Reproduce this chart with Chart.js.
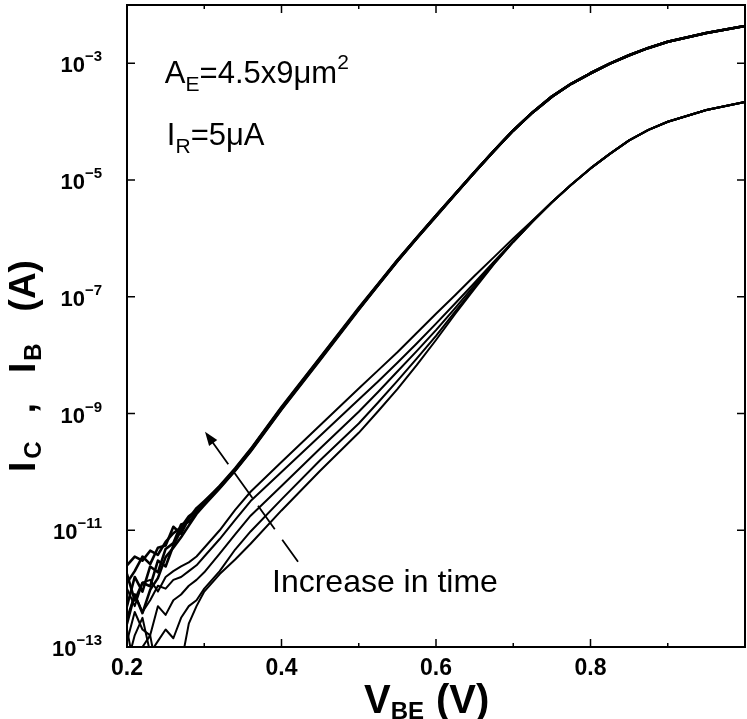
<!DOCTYPE html>
<html>
<head>
<meta charset="utf-8">
<script src="https://cdn.jsdelivr.net/npm/chart.js@4.4.1/dist/chart.umd.min.js"></script>
<style>
  html, body { margin: 0; padding: 0; background: #fff; }
  #wrap { width: 747px; height: 719px; }
</style>
</head>
<body>
<div id="wrap"><canvas id="c" width="747" height="719"></canvas></div>
<script>
// Base-emitter voltage sweep (V)
const VBE = [0.20, 0.21, 0.22, 0.23, 0.24, 0.25, 0.26, 0.27, 0.28, 0.29, 0.30,
             0.32, 0.34, 0.36, 0.40, 0.45, 0.50, 0.525, 0.55, 0.575, 0.60, 0.625, 0.65, 0.675, 0.70,
             0.725, 0.75, 0.775, 0.80, 0.825, 0.85, 0.875, 0.90, 0.95, 1.00];

// Collector current, log10(A), one curve per stress time
const IC_LOG_1 = [-11.60, -11.45, -11.52, -11.35, -11.42, -11.20, -11.05, -10.95, -10.76, -10.66, -10.52,
                  -10.24, -9.94, -9.61, -8.89, -8.04, -7.19, -6.78, -6.37, -5.99, -5.61, -5.235, -4.865, -4.50, -4.15,
                  -3.84, -3.57, -3.35, -3.17, -3.005, -2.86, -2.735, -2.63, -2.48, -2.36];
const IC_LOG_2 = [-11.90, -11.70, -11.45, -11.58, -11.30, -11.26, -10.94, -11.06, -10.80, -10.62, -10.50,
                  -10.25, -9.95, -9.62, -8.90, -8.05, -7.20, -6.79, -6.38, -5.99, -5.61, -5.235, -4.865, -4.50, -4.15,
                  -3.84, -3.57, -3.35, -3.17, -3.005, -2.86, -2.735, -2.63, -2.48, -2.36];
const IC_LOG_3 = [-12.30, -11.80, -12.05, -11.62, -11.72, -11.32, -11.22, -10.90, -10.86, -10.70, -10.55,
                  -10.27, -9.97, -9.64, -8.92, -8.07, -7.21, -6.80, -6.39, -6.00, -5.62, -5.24, -4.865, -4.50, -4.15,
                  -3.84, -3.57, -3.35, -3.17, -3.005, -2.86, -2.735, -2.63, -2.48, -2.36];
const IC_LOG_4 = [-11.75, -12.20, -11.90, -11.96, -11.52, -11.62, -11.26, -11.00, -10.78, -10.67, -10.54,
                  -10.26, -9.96, -9.63, -8.91, -8.06, -7.21, -6.79, -6.38, -5.99, -5.61, -5.235, -4.865, -4.50, -4.15,
                  -3.84, -3.57, -3.35, -3.17, -3.005, -2.86, -2.735, -2.63, -2.48, -2.36];
const IC_LOG_5 = [-12.60, -12.10, -12.42, -12.02, -11.82, -11.46, -11.30, -11.12, -10.92, -10.72, -10.57,
                  -10.28, -9.98, -9.65, -8.93, -8.08, -7.22, -6.80, -6.39, -6.00, -5.62, -5.24, -4.865, -4.50, -4.15,
                  -3.84, -3.57, -3.35, -3.17, -3.005, -2.86, -2.735, -2.63, -2.48, -2.36];

// Base current, log10(A), one curve per stress time (A = longest stress)
const IB_LOG_A = [-12.00, -12.30, -11.90, -11.85, -12.05, -11.80, -11.70, -11.62, -11.55, -11.45, -11.30,
                  -11.00, -10.65, -10.34, -9.83, -9.20, -8.57, -8.26, -7.95, -7.62, -7.29, -6.97, -6.64, -6.32, -6.00,
                  -5.69, -5.38, -5.08, -4.80, -4.55, -4.32, -4.14, -4.00, -3.80, -3.66];
const IB_LOG_B = [-12.50, -12.10, -12.40, -12.20, -11.95, -12.00, -11.85, -11.80, -11.70, -11.60, -11.45,
                  -11.15, -10.82, -10.50, -10.00, -9.38, -8.76, -8.45, -8.13, -7.80, -7.46, -7.11, -6.76, -6.40, -6.05,
                  -5.70, -5.38, -5.08, -4.80, -4.55, -4.32, -4.14, -4.00, -3.80, -3.66];
const IB_LOG_C = [-12.90, -12.40, -12.70, -12.80, -12.30, -12.45, -12.20, -12.10, -11.95, -11.85, -11.72,
                  -11.40, -11.07, -10.75, -10.24, -9.60, -8.97, -8.63, -8.28, -7.93, -7.57, -7.19, -6.80, -6.42, -6.05,
                  -5.71, -5.38, -5.08, -4.80, -4.55, -4.32, -4.14, -4.00, -3.80, -3.66];
const IB_LOG_D = [-13.30, -12.80, -12.50, -13.10, -12.90, -12.70, -12.85, -12.50, -12.30, -12.20, -12.00,
                  -11.70, -11.33, -11.02, -10.47, -9.80, -9.17, -8.81, -8.44, -8.06, -7.67, -7.25, -6.84, -6.43, -6.06,
                  -5.71, -5.38, -5.08, -4.80, -4.55, -4.32, -4.14, -4.00, -3.80, -3.66];
const IB_LOG_E = [-12.70, -13.40, -13.00, -12.80, -13.50, -13.20, -13.60, -13.30, -12.60, -12.30, -12.05,
                  -11.75, -11.50, -11.23, -10.66, -9.98, -9.33, -8.96, -8.58, -8.17, -7.74, -7.29, -6.86, -6.44, -6.06,
                  -5.71, -5.38, -5.08, -4.80, -4.55, -4.32, -4.14, -4.00, -3.80, -3.66];

// Axis ticks
const X_MAJOR = [0.2, 0.4, 0.6, 0.8];
const X_MINOR = [0.3, 0.5, 0.7, 0.9];
const Y_EXPONENTS = [-3, -5, -7, -9, -11, -13];

const FONT = '"Liberation Sans", Arial, Helvetica, sans-serif';

function toPoints(logs) {
  return VBE.map((v, i) => ({ x: v, y: Math.pow(10, logs[i]) }));
}

const icCurves = [IC_LOG_1, IC_LOG_2, IC_LOG_3, IC_LOG_4, IC_LOG_5];
const ibCurves = [IB_LOG_A, IB_LOG_B, IB_LOG_C, IB_LOG_D, IB_LOG_E];

const datasets = [];
ibCurves.forEach((c, i) => datasets.push({
  label: 'IB ' + (i + 1), data: toPoints(c),
  borderColor: '#000', borderWidth: 2.0, pointRadius: 0, tension: 0
}));
icCurves.forEach((c, i) => datasets.push({
  label: 'IC ' + (i + 1), data: toPoints(c),
  borderColor: '#000', borderWidth: 2.6, pointRadius: 0, tension: 0
}));

// Draws a run of text pieces (normal / sub / superscript) starting at x
function drawRuns(ctx, runs, x, y) {
  let cx = x;
  runs.forEach(r => {
    ctx.font = r.font;
    ctx.fillText(r.t, cx, y + (r.dy || 0));
    cx += ctx.measureText(r.t).width + (r.gap || 0);
  });
  return cx - x;
}
function runsWidth(ctx, runs) {
  let w = 0;
  runs.forEach(r => { ctx.font = r.font; w += ctx.measureText(r.t).width + (r.gap || 0); });
  return w;
}

const frameAndLabels = {
  id: 'frameAndLabels',
  afterDraw(chart) {
    const ctx = chart.ctx;
    const a = chart.chartArea;
    const xs = chart.scales.x, ys = chart.scales.y;
    ctx.save();
    ctx.strokeStyle = '#000';
    ctx.fillStyle = '#000';

    // frame
    ctx.lineWidth = 2;
    ctx.strokeRect(a.left, a.top, a.right - a.left, a.bottom - a.top);

    // inward ticks on all four sides
    ctx.lineWidth = 1.5;
    ctx.beginPath();
    X_MAJOR.forEach(v => {
      const px = xs.getPixelForValue(v);
      ctx.moveTo(px, a.bottom); ctx.lineTo(px, a.bottom - 8);
      ctx.moveTo(px, a.top); ctx.lineTo(px, a.top + 8);
    });
    X_MINOR.forEach(v => {
      const px = xs.getPixelForValue(v);
      ctx.moveTo(px, a.bottom); ctx.lineTo(px, a.bottom - 4);
      ctx.moveTo(px, a.top); ctx.lineTo(px, a.top + 4);
    });
    Y_EXPONENTS.forEach(e => {
      const py = ys.getPixelForValue(Math.pow(10, e));
      ctx.moveTo(a.left, py); ctx.lineTo(a.left + 8, py);
      ctx.moveTo(a.right, py); ctx.lineTo(a.right - 8, py);
    });
    ctx.stroke();

    // x tick labels
    ctx.font = 'bold 23px ' + FONT;
    ctx.textAlign = 'center';
    ctx.textBaseline = 'alphabetic';
    X_MAJOR.forEach(v => {
      ctx.fillText(v.toFixed(1), xs.getPixelForValue(v), a.bottom + 28);
    });

    // y tick labels: 10 with a raised exponent
    ctx.textAlign = 'left';
    Y_EXPONENTS.forEach(e => {
      const py = ys.getPixelForValue(Math.pow(10, e));
      const runs = [
        { t: '10', font: 'bold 22px ' + FONT },
        { t: '\u2212' + Math.abs(e), font: 'bold 15px ' + FONT, dy: -11 }
      ];
      const w = runsWidth(ctx, runs);
      drawRuns(ctx, runs, a.left - 25 - w, py + 9);
    });

    // x axis title: V_BE (V)
    const xt = [
      { t: 'V', font: 'bold 40px ' + FONT },
      { t: 'BE', font: 'bold 24px ' + FONT, dy: 6, gap: 12 },
      { t: '(V)', font: 'bold 40px ' + FONT }
    ];
    drawRuns(ctx, xt, 364, 713);

    // y axis title: I_C , I_B (A), rotated
    const yt = [
      { t: 'I', font: 'bold 37px ' + FONT, gap: 3 },
      { t: 'C', font: 'bold 24px ' + FONT, dy: 6, gap: 28 },
      { t: ',', font: 'bold 37px ' + FONT, gap: 30 },
      { t: 'I', font: 'bold 37px ' + FONT, gap: 2 },
      { t: 'B', font: 'bold 24px ' + FONT, dy: 6, gap: 32 },
      { t: '(A)', font: 'bold 37px ' + FONT }
    ];
    const ytw = runsWidth(ctx, yt);
    ctx.save();
    ctx.translate(35, 366);
    ctx.rotate(-Math.PI / 2);
    drawRuns(ctx, yt, -ytw / 2, 0);
    ctx.restore();

    // device annotations
    const noteX = xs.getPixelForValue(0.249);
    drawRuns(ctx, [
      { t: 'A', font: '31px ' + FONT },
      { t: 'E', font: '21px ' + FONT, dy: 8 },
      { t: '=4.5x9\u03bcm', font: '31px ' + FONT },
      { t: '2', font: '21px ' + FONT, dy: -14 }
    ], noteX, ys.getPixelForValue(Math.pow(10, -3.34)));
    drawRuns(ctx, [
      { t: 'I', font: '31px ' + FONT },
      { t: 'R', font: '21px ' + FONT, dy: 8 },
      { t: '=5\u03bcA', font: '31px ' + FONT }
    ], noteX + 2, ys.getPixelForValue(Math.pow(10, -4.40)));

    // "Increase in time" label with arrow crossing the base-current curves
    ctx.font = '32px ' + FONT;
    ctx.fillText('Increase in time', xs.getPixelForValue(0.3877), ys.getPixelForValue(Math.pow(10, -12.05)));

    const p0 = { x: xs.getPixelForValue(0.4214), y: ys.getPixelForValue(Math.pow(10, -11.54)) };
    const p1 = { x: xs.getPixelForValue(0.301), y: ys.getPixelForValue(Math.pow(10, -9.31)) };
    const at = t => ({ x: p0.x + (p1.x - p0.x) * t, y: p0.y + (p1.y - p0.y) * t });
    ctx.lineWidth = 1.8;
    ctx.beginPath();
    [[0, 0.17], [0.25, 0.43], [0.49, 0.70], [0.75, 0.94]].forEach(([s, e]) => {
      const q0 = at(s), q1 = at(e);
      ctx.moveTo(q0.x, q0.y); ctx.lineTo(q1.x, q1.y);
    });
    ctx.stroke();
    const ang = Math.atan2(p1.y - p0.y, p1.x - p0.x);
    const L = 14, W = 5;
    ctx.beginPath();
    ctx.moveTo(p1.x, p1.y);
    ctx.lineTo(p1.x - L * Math.cos(ang) + W * Math.sin(ang), p1.y - L * Math.sin(ang) - W * Math.cos(ang));
    ctx.lineTo(p1.x - L * Math.cos(ang) - W * Math.sin(ang), p1.y - L * Math.sin(ang) + W * Math.cos(ang));
    ctx.closePath();
    ctx.fill();

    ctx.restore();
  }
};

new Chart(document.getElementById('c'), {
  type: 'line',
  data: { datasets },
  options: {
    responsive: false,
    animation: false,
    devicePixelRatio: 1,
    layout: { padding: { left: 0, right: 2, top: 5, bottom: 0 } },
    plugins: { legend: { display: false }, tooltip: { enabled: false } },
    elements: { line: { borderJoinStyle: 'round', borderCapStyle: 'round' } },
    scales: {
      x: {
        type: 'linear', min: 0.2, max: 1.0,
        grid: { display: false }, border: { display: false },
        ticks: { display: false },
        afterFit: s => { s.height = 72; }
      },
      y: {
        type: 'logarithmic', min: 1e-13, max: 1e-2,
        grid: { display: false }, border: { display: false },
        ticks: { display: false },
        afterFit: s => { s.width = 127; }
      }
    }
  },
  plugins: [frameAndLabels]
});
</script>
</body>
</html>
